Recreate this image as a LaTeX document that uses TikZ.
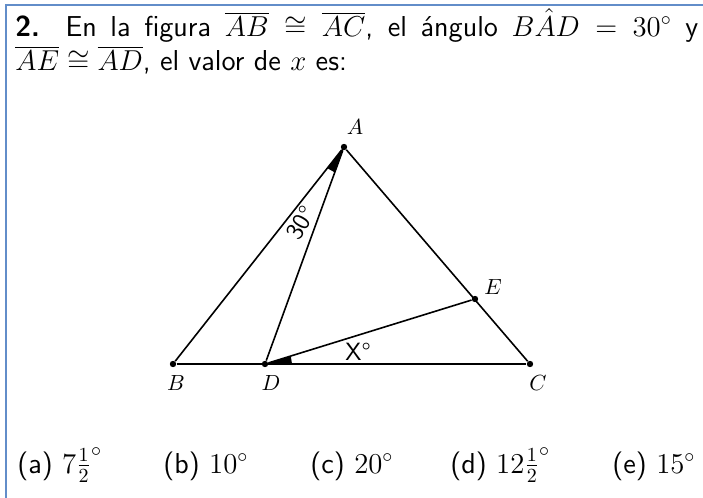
\documentclass[tikz,border=0pt]{standalone}
\usepackage{fontspec}
\usetikzlibrary{calc}
\definecolor{frameblue}{RGB}{98,141,201}

\begin{document}
\begin{tikzpicture}[x=0.5pt,y=-0.5pt,
  pt/.style={circle,fill,inner sep=0pt,minimum size=3.2pt},
  lbl/.style={inner sep=0pt,font=\fontsize{10.5}{12}\selectfont},
  txt/.style={inner sep=0pt,anchor=base west,font=\fontsize{14.4}{17}\selectfont\sffamily},
  angtxt/.style={inner sep=0pt,font=\fontsize{12.5}{14}\selectfont\sffamily},
  seg/.style={line width=0.8pt}]
\useasboundingbox (0,0) rectangle (703,498);
\draw[frameblue,line width=1.2pt] (703,5) -- (6,5) -- (6,498);
% question
\node[txt] (q1) at (15,36) {\makebox[341.5pt][s]{\textbf{2.} En la figura $\overline{AB}\cong\overline{AC}$, el ángulo $B\hat{A}D=30^\circ$ y}};
\node[txt] (q2) at (15,70) {$\overline{AE}\cong\overline{AD}$, el valor de $x$ es:};
% triangle
\node[pt] (A) at (344,147) {};
\node[pt] (B) at (173,364) {};
\node[pt] (D) at (265,364) {};
\node[pt] (C) at (530,364) {};
\node[pt] (E) at (475,299) {};
\node[lbl] (lA) at (355,127) {$A$};
\node[lbl] (lB) at (176,383) {$B$};
\node[lbl] (lD) at (271,383) {$D$};
\node[lbl] (lC) at (538,383) {$C$};
\node[lbl] (lE) at (493,287) {$E$};
\draw[seg] (A) -- (B); \draw[seg] (A) -- (C);
\draw[seg] (B) -- (C); \draw[seg] (A) -- (D);
\draw[seg] (D) -- (E);
\fill (A.center) -- ($(A)!13.5pt!(B)$) -- ($(A)!13.5pt!(D)$) -- cycle;
\fill (D.center) -- ($(D)!13.5pt!(C)$) -- ($(D)!13.5pt!(E)$) -- cycle;
\node[angtxt,rotate=60] (t30) at (301,223) {30°};
\node[angtxt] (tx) at (358,352) {X°};
% answers
\node[txt] (oa) at (17,473) {(a) $7\frac{1}{2}^\circ$};
\node[txt] (ob) at (163,473) {(b) $10^\circ$};
\node[txt] (oc) at (310,473) {(c) $20^\circ$};
\node[txt] (od) at (450,473) {(d) $12\frac{1}{2}^\circ$};
\node[txt] (oe) at (612,473) {(e) $15^\circ$};
\end{tikzpicture}
\end{document}
